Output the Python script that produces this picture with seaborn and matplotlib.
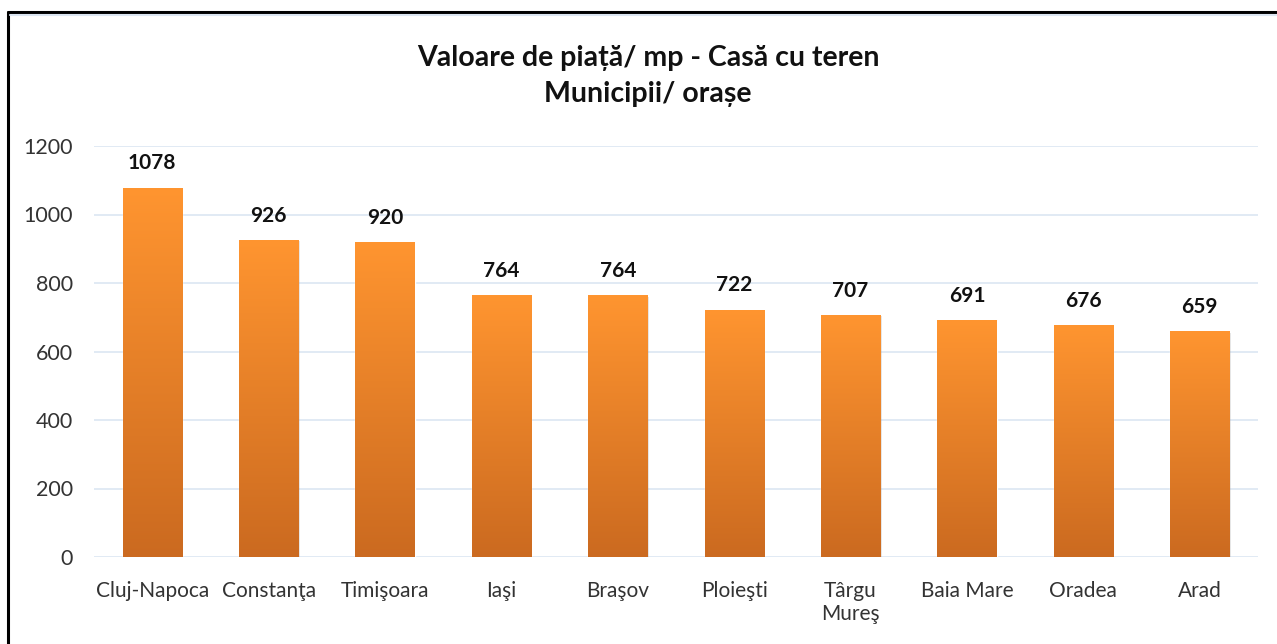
import matplotlib
matplotlib.use("Agg")
import matplotlib.pyplot as plt
import numpy as np
import pandas as pd
import seaborn as sns
from matplotlib.colors import LinearSegmentedColormap
from matplotlib.lines import Line2D

cities = ["Cluj-Napoca", "Constanţa", "Timişoara", "Iaşi", "Braşov", "Ploieşti",
          "Târgu\nMureş", "Baia Mare", "Oradea", "Arad"]
values = [1078, 926, 920, 764, 764, 722, 707, 691, 676, 659]
yticks = [0, 200, 400, 600, 800, 1000, 1200]
title = "Valoare de piață/ mp - Casă cu teren\nMunicipii/ orașe"

sns.set_theme(style="white")
plt.rcParams['font.family'] = ['Lato', 'DejaVu Sans']

df = pd.DataFrame({"city": cities, "value": values})

fig = plt.figure(figsize=(12.77, 6.44), dpi=100)
ax = fig.add_axes([94/1277, 1-557/644, (1258-94)/1277, (557-146)/644])

sns.barplot(data=df, x="city", y="value", ax=ax, color="#F08A2A", width=0.51,
            saturation=1, zorder=3)

ax.set_ylim(0, 1200)
ax.set_xlim(-0.5, len(cities) - 0.5)
ax.set_yticks(yticks)
ax.set_yticklabels([str(t) for t in yticks], fontsize=15.5, color="#333333")
ax.tick_params(axis='x', labelsize=15, colors="#333333", length=0, pad=17)
ax.tick_params(axis='y', length=0, pad=15)
ax.set_xlabel("")
ax.set_ylabel("")
for s in ax.spines.values():
    s.set_visible(False)
ax.grid(axis='y', color="#DCE6F2", linewidth=1.2, zorder=0)
ax.set_axisbelow(True)

# gradient fill on bars
cmap = LinearSegmentedColormap.from_list("og", ["#CB6A20", "#FF9530"])
grad = np.linspace(0, 1, 256).reshape(-1, 1)
for p in ax.patches:
    x0, y0 = p.get_x(), p.get_y()
    w, h = p.get_width(), p.get_height()
    sh = plt.Rectangle((x0 + 0.012, y0), w, h - 4, facecolor="#000000", alpha=0.12,
                       edgecolor="none", zorder=2)
    ax.add_patch(sh)
    im = ax.imshow(grad, extent=[x0, x0 + w, y0, y0 + h], origin="lower",
                   aspect="auto", cmap=cmap, zorder=4)
    im.set_clip_path(p)
    p.set_zorder(3)
    ax.annotate(f"{int(round(h))}", (x0 + w / 2, y0 + h), xytext=(0, 17.5),
                textcoords="offset points", ha="center", va="center",
                fontsize=15, fontweight="bold", color="#111111", zorder=5)
ax.set_xlim(-0.5, len(cities) - 0.5)
ax.set_ylim(0, 1200)

fig.text(648/1277, 1-76/644, title, ha="center", va="center", fontsize=20.5,
         fontweight="bold", color="#111111", linespacing=1.5)

# frame (top and left edges)
fig.add_artist(Line2D([8/1277, 1.0], [1-12/644, 1-12/644], color="black", lw=2.2,
                      transform=fig.transFigure))
fig.add_artist(Line2D([8/1277, 8/1277], [0, 1-12/644], color="black", lw=2.2,
                      transform=fig.transFigure))
fig.add_artist(Line2D([10/1277, 1.0], [1-14.5/644, 1-14.5/644], color="#DCE6F2", lw=1.5,
                      transform=fig.transFigure))

fig.savefig("out.png", dpi=100)
